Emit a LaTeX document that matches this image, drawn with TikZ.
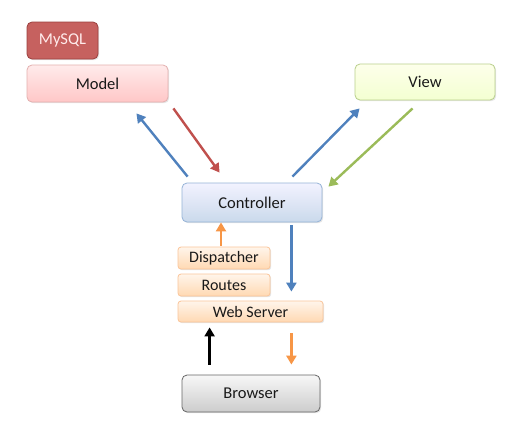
\documentclass[tikz,border=0pt]{standalone}
\usepackage{fontspec}
\setmainfont{Carlito}
\usetikzlibrary{arrows.meta,shadows}
\definecolor{mred}{HTML}{C0504D}
\definecolor{mblue}{HTML}{4F81BD}
\definecolor{mgreen}{HTML}{9BBB59}
\definecolor{morange}{HTML}{F79646}
\tikzset{
  box/.style={draw, rounded corners=5pt, line width=0.8pt, font=\fontsize{16.5}{19}\selectfont, text=black!90,
    inner sep=0pt, drop shadow={shadow xshift=1.2pt, shadow yshift=-1.2pt, opacity=0.2}},
  sqlbox/.style={box, draw=mred!80!black, fill=mred!90, text=red!8},
  modelbox/.style={box, draw=mred!45, top color=red!8, bottom color=red!22},
  viewbox/.style={box, draw=mgreen!70, top color=green!10!yellow!8, bottom color=green!25!yellow!18},
  ctrlbox/.style={box, draw=mblue!60, top color=blue!5, bottom color=mblue!30},
  orbox/.style={box, rounded corners=3pt, draw=morange!55, top color=orange!8, bottom color=orange!30, font=\fontsize{16}{18}\selectfont},
  brbox/.style={box, draw=black!60, top color=black!3, bottom color=black!20},
  arr/.style={line width=2.4pt, -{Triangle[length=9pt,width=10pt]}},
}
\begin{document}
\begin{tikzpicture}[x=1pt,y=-1pt]
\useasboundingbox[fill=white] (0,0) rectangle (528,440);
\node[sqlbox, minimum width=71pt, minimum height=37pt] (sql) at (62.5,40.5) {MySQL};
\node[modelbox, minimum width=141pt, minimum height=37pt] (model) at (97.5,83.5) {Model};
\node[viewbox, minimum width=140pt, minimum height=36pt] (view) at (425,82) {View};
\node[ctrlbox, minimum width=140pt, minimum height=39pt] (ctrl) at (252,202.5) {Controller};
\node[orbox, minimum width=92pt, minimum height=22pt] (disp) at (224,258) {Dispatcher};
\node[orbox, minimum width=92pt, minimum height=22pt] (routes) at (224,285) {Routes};
\node[orbox, minimum width=145pt, minimum height=21pt] (web) at (250.5,311.5) {Web Server};
\node[brbox, minimum width=138pt, minimum height=37pt] (browser) at (251,393.5) {Browser};

\draw[arr, mblue] ([xshift=6pt,yshift=6pt]ctrl.north west) -- ([xshift=-32pt,yshift=-11pt]model.south east);
\draw[arr, mred] ([xshift=5pt,yshift=-6pt]model.south east) -- ([xshift=38pt,yshift=10pt]ctrl.north west);
\draw[arr, mblue] ([xshift=-30pt,yshift=6pt]ctrl.north east) -- ([xshift=5pt,yshift=-8pt]view.south west);
\draw[arr, mgreen] ([xshift=58pt,yshift=-8pt]view.south west) -- ([xshift=6pt,yshift=-4pt]ctrl.north east);
\draw[arr, morange] ([xshift=-3pt,yshift=1pt]disp.north) -- ([xshift=-31pt]ctrl.south);
\draw[arr, mblue] ([xshift=-31pt,yshift=-3pt]ctrl.south east) -- ([xshift=-32pt,yshift=9pt]web.north east);
\draw[arr, black] ([xshift=28pt,yshift=10pt]browser.north west) -- ([xshift=32pt,yshift=-5pt]web.south west);
\draw[arr, morange] ([xshift=-32pt,yshift=-11pt]web.south east) -- ([xshift=-29pt,yshift=10pt]browser.north east);
\end{tikzpicture}
\end{document}
